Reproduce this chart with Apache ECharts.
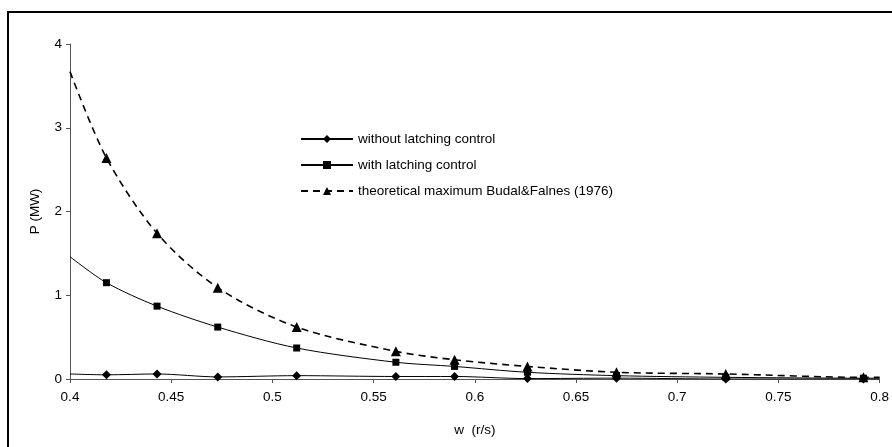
<!DOCTYPE html>
<html>
<head>
<meta charset="utf-8">
<script src="https://cdn.jsdelivr.net/npm/echarts@6/dist/echarts.min.js"></script>
<style>html,body{margin:0;padding:0;background:#fff;}#c{width:892px;height:447px;}</style>
</head>
<body>
<div id="c"></div>
<script>
// w (r/s) positions: first and last are curve ends at the axis edges (no marker)
const wValues = [0.400, 0.418, 0.443, 0.473, 0.512, 0.561, 0.590, 0.626, 0.670, 0.724, 0.792, 0.800];
const markerShown = [false, true, true, true, true, true, true, true, true, true, true, false];
const withoutLatching = [0.06, 0.05, 0.06, 0.025, 0.04, 0.03, 0.03, 0.005, 0.01, 0.0, 0.0, 0.0];
const withLatching = [1.46, 1.15, 0.87, 0.62, 0.37, 0.20, 0.15, 0.08, 0.04, 0.02, 0.01, 0.01];
const theoreticalMax = [3.67, 2.64, 1.74, 1.09, 0.62, 0.33, 0.23, 0.15, 0.08, 0.06, 0.02, 0.02];
const seriesNames = ['without latching control', 'with latching control', 'theoretical maximum Budal&Falnes (1976)'];
const xTicks = ['0.4','0.45','0.5','0.55','0.6','0.65','0.7','0.75','0.8'];

function pts(vals){
  return wValues.map((w,i)=> markerShown[i] ? [w, vals[i]] : {value:[w, vals[i]], symbol:'none'});
}
const FONT = 'Liberation Sans, Arial, sans-serif';
const FS = 13.5;
const chart = echarts.init(document.getElementById('c'), null, {renderer:'canvas'});
chart.setOption({
  animation:false,
  backgroundColor:'#fff',
  graphic:[{type:'rect', shape:{x:8, y:12, width:900, height:450}, style:{fill:'none', stroke:'#000', lineWidth:2}}],
  grid:{left:70, right:5, top:44, bottom:68},
  legend:{
    orient:'vertical', left:295, top:127, itemWidth:52, itemHeight:10, itemGap:12,
    textStyle:{fontFamily:FONT, fontSize:FS, color:'#000'},
    data:seriesNames
  },
  xAxis:{
    type:'value', min:0.4, max:0.8, interval:0.05,
    name:'w  (r/s)', nameLocation:'middle', nameGap:44,
    nameTextStyle:{fontFamily:FONT, fontSize:FS, color:'#000'},
    axisLine:{onZero:false, lineStyle:{color:'#555', width:1}},
    axisTick:{length:4, lineStyle:{color:'#555'}},
    axisLabel:{fontFamily:FONT, fontSize:FS, color:'#000', margin:11,
      alignMinLabel:'center', alignMaxLabel:'center',
      formatter:(v)=>{const i=Math.round((v-0.4)/0.05); return xTicks[i]!==undefined?xTicks[i]:'';}},
    splitLine:{show:false}
  },
  yAxis:{
    type:'value', min:0, max:4, interval:1,
    name:'P (MW)', nameLocation:'middle', nameGap:28, nameRotate:90,
    nameTextStyle:{fontFamily:FONT, fontSize:FS, color:'#000'},
    axisLine:{show:true, lineStyle:{color:'#555', width:1}},
    axisTick:{show:true, length:4, lineStyle:{color:'#555'}},
    axisLabel:{fontFamily:FONT, fontSize:FS, color:'#000', margin:8},
    splitLine:{show:false}
  },
  series:[
    {name:seriesNames[0], type:'line', smooth:0.3, data:pts(withoutLatching),
     symbol:'diamond', symbolSize:9, showAllSymbol:true,
     itemStyle:{color:'#000'}, lineStyle:{color:'#000', width:1}},
    {name:seriesNames[1], type:'line', smooth:0.3, data:pts(withLatching),
     symbol:'rect', symbolSize:7, showAllSymbol:true,
     itemStyle:{color:'#000'}, lineStyle:{color:'#000', width:1}},
    {name:seriesNames[2], type:'line', smooth:0.3, data:pts(theoreticalMax),
     symbol:'triangle', symbolSize:10, showAllSymbol:true,
     itemStyle:{color:'#000'}, lineStyle:{color:'#000', width:1.6, type:[7,5]}}
  ]
});
</script>
</body>
</html>
